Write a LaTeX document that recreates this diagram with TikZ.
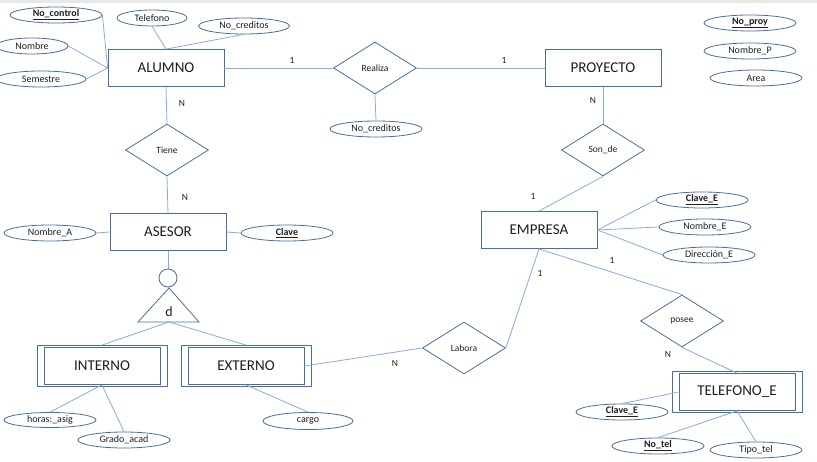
\documentclass[tikz,border=0pt]{standalone}
\usepackage{fontspec}
\setmainfont{Carlito}
\usetikzlibrary{shapes.geometric}

\definecolor{borde}{RGB}{70,110,160}
\definecolor{linea}{RGB}{135,172,220}
\definecolor{texto}{RGB}{30,30,30}

\tikzset{
  entidad/.style={rectangle, draw=borde, line width=0.8pt, minimum width=116pt, minimum height=37pt, inner sep=0pt, text=texto, font=\fontsize{15}{17}\selectfont},
  marco/.style={rectangle, draw=borde, line width=0.8pt, minimum width=130pt, minimum height=41pt, inner sep=0pt},
  atributo/.style={ellipse, draw=borde, line width=0.8pt, minimum width=92pt, minimum height=16pt, inner sep=0pt, text=texto, font=\fontsize{10}{12}\selectfont},
  relacion/.style={diamond, draw=borde, line width=0.8pt, minimum width=83pt, minimum height=52pt, inner sep=0pt, text=texto, font=\fontsize{9.5}{11}\selectfont},
  card/.style={text=texto, inner sep=0pt, font=\fontsize{9.5}{11}\selectfont},
  conector/.style={draw=linea, line width=0.8pt}
}
\newcommand{\clave}[1]{\underline{\textbf{#1}}}

\begin{document}
\begin{tikzpicture}[x=1pt, y=-1pt]
    \useasboundingbox (0,0) rectangle (817,462);
    \fill[gray!18] (0,0) rectangle (817,3);

    % エンティティ
    \node[entidad] (alumno) at (166,68) {ALUMNO};
    \node[entidad] (proyecto) at (603,68) {PROYECTO};
    \node[entidad] (asesor) at (168,232) {ASESOR};
    \node[entidad] (empresa) at (539,230) {EMPRESA};
    \node[marco] (interno_m) at (102,366) {};
    \node[entidad] (interno) at (102,366) {INTERNO};
    \node[marco] (externo_m) at (246,366) {};
    \node[entidad] (externo) at (246,366) {EXTERNO};
    \node[marco] (telefono_m) at (737,392) {};
    \node[entidad] (telefono) at (737,392) {TELEFONO\_E};

    % リレーション
    \node[relacion] (realiza) at (375,68) {Realiza};
    \node[relacion] (tiene) at (167,150) {Tiene};
    \node[relacion] (sonde) at (603,150) {Son\_de};
    \node[relacion] (labora) at (464,348) {Labora};
    \node[relacion] (posee) at (682,321) {posee};

    % 属性
    \node[atributo] (nocontrol) at (56,15) {\clave{No\_control}};
    \node[atributo, minimum width=70pt] (telefonoa) at (152,18) {Telefono};
    \node[atributo, minimum width=91pt] (nocred) at (244,26) {No\_creditos};
    \node[atributo, minimum width=72pt] (nombre) at (32,46) {Nombre};
    \node[atributo, minimum width=90pt] (semestre) at (41,79) {Semestre};
    \node[atributo] (nocred_r) at (376,129) {No\_creditos};
    \node[atributo] (noproy) at (750,23) {\clave{No\_proy}};
    \node[atributo] (nombrep) at (750,51) {Nombre\_P};
    \node[atributo] (area) at (756,78) {Area};
    \node[atributo] (nombrea) at (50,233) {Nombre\_A};
    \node[atributo] (claveas) at (287,233) {\clave{Clave}};
    \node[atributo] (clavee) at (702,200) {\clave{Clave\_E}};
    \node[atributo] (nombree) at (705,227) {Nombre\_E};
    \node[atributo] (direccione) at (709,255) {Dirección\_E};
    \node[atributo, minimum height=15pt] (horas) at (50,420) {horas:\_asig};
    \node[atributo] (grado) at (124,440) {Grado\_acad};
    \node[atributo, minimum width=90pt, minimum height=17pt] (cargo) at (308,421) {cargo};
    \node[atributo] (clavetel) at (622,412) {\clave{Clave\_E}};
    \node[atributo] (notel) at (658,446) {\clave{No\_tel}};
    \node[atributo] (tipotel) at (756,450) {Tipo\_tel};

    % 特化 (円と三角形)
    \node[circle, draw=borde, line width=0.8pt, minimum size=18pt, inner sep=0pt] (esp) at (168,278) {};
    \coordinate (tri) at (169,322);
    \draw[borde, line width=0.8pt] (169,288) -- (138,322) -- (199,322) -- cycle;
    \node[text=texto, font=\fontsize{14}{16}\selectfont] (disj) at (169,312) {d};

    % 接続線
    \draw[conector] (nocontrol.east) -- (alumno.west);
    \draw[conector] (nombre.east) -- (alumno.west);
    \draw[conector] (semestre.east) -- (alumno.west);
    \draw[conector] (telefonoa.south) -- (alumno.north);
    \draw[conector] (nocred.south) -- (alumno.north);
    \draw[conector] (alumno.east) -- (realiza.west);
    \draw[conector] (realiza.east) -- (proyecto.west);
    \draw[conector] (realiza.south) -- (nocred_r.north);
    \draw[conector] (alumno.south) -- (tiene.north);
    \draw[conector] (tiene.south) -- (asesor.north);
    \draw[conector] (proyecto.south) -- (sonde.north);
    \draw[conector] (sonde.south) -- (empresa.north);
    \draw[conector] (nombrea.east) -- (asesor.west);
    \draw[conector] (asesor.east) -- (claveas.west);
    \draw[conector] (asesor.south) -- (esp.north);
    \draw[conector] (tri) -- (interno_m.north);
    \draw[conector] (tri) -- (externo_m.north);
    \draw[conector] (interno.south) -- (horas.north);
    \draw[conector] (interno.south) -- (grado.north);
    \draw[conector] (externo.south) -- (cargo.north);
    \draw[conector] (externo.east) -- (labora.west);
    \draw[conector] (labora.east) -- (empresa.south);
    \draw[conector] (empresa.east) -- (clavee.west);
    \draw[conector] (empresa.east) -- (nombree.west);
    \draw[conector] (empresa.east) -- (direccione.west);
    \draw[conector] (empresa.south) -- (posee.north);
    \draw[conector] (posee.south) -- (telefono.north);
    \draw[conector] (telefono.west) -- (clavetel.north);
    \draw[conector] (telefono.south) -- (notel.north);
    \draw[conector] (telefono.south) -- (tipotel.north);

    % カーディナリティ
    \node[card] (c1) at (292,60) {1};
    \node[card] (c2) at (504,60) {1};
    \node[card] (c3) at (182,103) {N};
    \node[card] (c4) at (185,197) {N};
    \node[card] (c5) at (593,100) {N};
    \node[card] (c6) at (533,196) {1};
    \node[card] (c7) at (540,273) {1};
    \node[card] (c8) at (612,260) {1};
    \node[card] (c9) at (395,363) {N};
    \node[card] (c10) at (668,354) {N};

  \end{tikzpicture}
\end{document}
